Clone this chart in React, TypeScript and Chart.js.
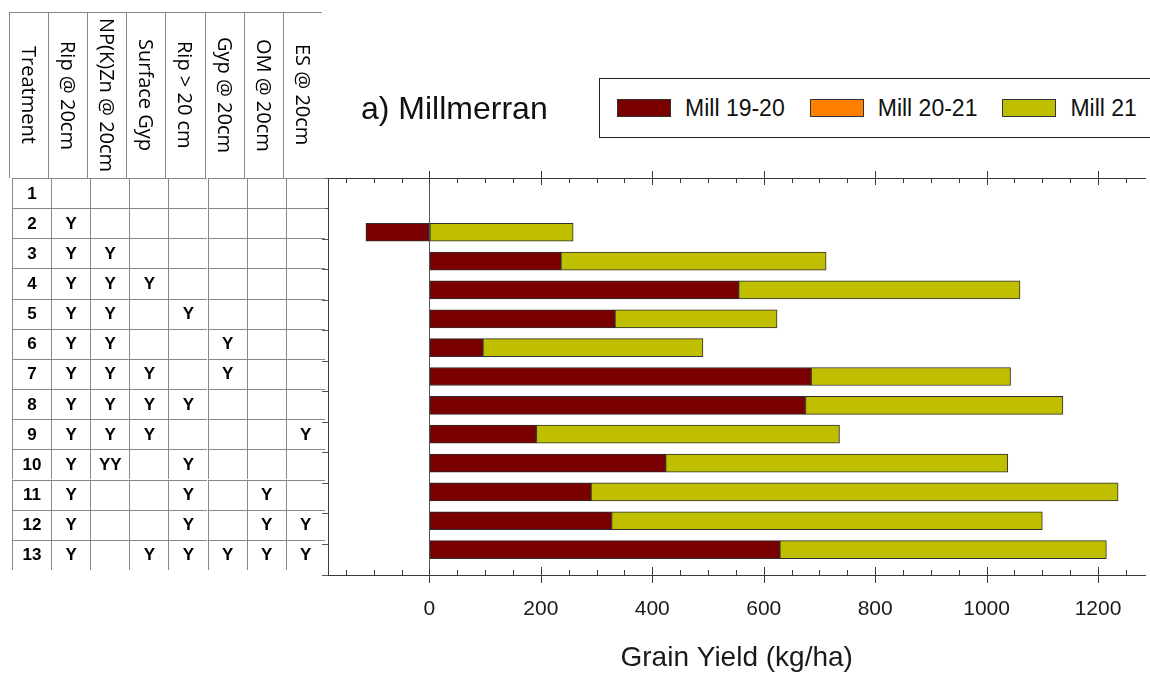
import React, { useEffect, useRef } from 'react';
import { Chart, registerables } from 'chart.js';

Chart.register(...registerables);

// ---- data ----
const treatments = ['1', '2', '3', '4', '5', '6', '7', '8', '9', '10', '11', '12', '13'];
const treatmentNums = [1, 2, 3, 4, 5, 6, 7, 8, 9, 10, 11, 12, 13];
const seriesNames = ['Mill 19-20', 'Mill 20-21', 'Mill 21'];
const seriesColors = ['#7a0000', '#ff8000', '#bfbf00'];
const mill1920 = [null, -114, 236, 555, 333, 96, 685, 675, 192, 424, 290, 327, 629];
const mill2021 = [null, null, null, null, null, null, null, null, null, null, null, null, null];
const mill21 = [null, 258, 476, 505, 291, 395, 358, 462, 544, 614, 946, 773, 586];
const xMajorTicks = [0, 200, 400, 600, 800, 1000, 1200];
const xAxisTitle = 'Grain Yield (kg/ha)';
const chartTitle = 'a) Millmerran';

const tableHeaders = ['Treatment', 'Rip @ 20cm', 'NP(K)Zn @ 20cm', 'Surface Gyp', 'Rip > 20 cm', 'Gyp @ 20cm', 'OM @ 20cm', 'ES @ 20cm'];
const tableMarks = [
  ['', '', '', '', '', '', ''],
  ['Y', '', '', '', '', '', ''],
  ['Y', 'Y', '', '', '', '', ''],
  ['Y', 'Y', 'Y', '', '', '', ''],
  ['Y', 'Y', '', 'Y', '', '', ''],
  ['Y', 'Y', '', '', 'Y', '', ''],
  ['Y', 'Y', 'Y', '', 'Y', '', ''],
  ['Y', 'Y', 'Y', 'Y', '', '', ''],
  ['Y', 'Y', 'Y', '', '', '', 'Y'],
  ['Y', 'YY', '', 'Y', '', '', ''],
  ['Y', '', '', 'Y', '', 'Y', ''],
  ['Y', '', '', 'Y', '', 'Y', 'Y'],
  ['Y', '', 'Y', 'Y', 'Y', 'Y', 'Y'],
];

const seriesValues = [mill1920, mill2021, mill21];

const tickMarksPlugin = {
  id: 'tickMarks',
  afterDraw(chart: any) {
    const { ctx, chartArea: a, scales } = chart;
    const xs = scales.x;
    ctx.save();
    ctx.strokeStyle = '#3a3a3a';
    ctx.lineWidth = 1;
    xs.ticks.forEach((t: any) => {
      const px = Math.round(xs.getPixelForValue(t.value)) + 0.5;
      const major = xMajorTicks.includes(t.value);
      ctx.beginPath();
      if (major) {
        ctx.moveTo(px, a.top - 7);
        ctx.lineTo(px, a.top + 7);
        ctx.moveTo(px, a.bottom - 8);
        ctx.lineTo(px, a.bottom + 8);
      } else {
        ctx.moveTo(px, a.top);
        ctx.lineTo(px, a.top + 5);
        ctx.moveTo(px, a.bottom - 5);
        ctx.lineTo(px, a.bottom);
      }
      ctx.stroke();
    });
    ctx.restore();
  },
};

const FONT = '"Liberation Sans", Arial, sans-serif';

function ChartCanvas() {
  const ref = useRef<HTMLCanvasElement | null>(null);
  useEffect(() => {
    if (!ref.current) return;
    const chart = new Chart(ref.current, {
      type: 'bar',
      data: {
        datasets: seriesNames.map((name, si) => ({
          label: name,
          data: treatmentNums
            .map((t, i) => ({ x: seriesValues[si][i], y: t }))
            .filter((d) => d.x !== null) as any,
          backgroundColor: seriesColors[si],
          borderColor: '#2e2e2e',
          borderWidth: 1,
          borderSkipped: false,
          barThickness: 18,
          xAxisID: 'x',
          yAxisID: 'y',
        })),
      },
      options: {
        indexAxis: 'y',
        responsive: false,
        animation: false,
        layout: { padding: { left: 322, top: 178, right: 0, bottom: 0 } },
        plugins: { legend: { display: false }, tooltip: { enabled: false }, title: { display: false } },
        scales: {
          x: {
            type: 'linear',
            position: 'bottom',
            stacked: true,
            min: -182,
            max: 1285,
            ticks: {
              stepSize: 50,
              includeBounds: false,
              autoSkip: false,
              maxRotation: 0,
              padding: 24,
              color: '#1a1a1a',
              font: { family: FONT, size: 21, lineHeight: 1 },
              callback: (v: any) => (xMajorTicks.includes(Number(v)) ? String(v) : ''),
            },
            grid: {
              drawTicks: false,
              color: (c: any) => (c.tick && c.tick.value === 0 ? '#555555' : 'rgba(0,0,0,0)'),
              lineWidth: 1,
            },
            border: { display: true, color: '#3a3a3a', width: 1 },
            title: {
              display: true,
              text: xAxisTitle,
              color: '#1a1a1a',
              font: { family: FONT, size: 28, lineHeight: 1 },
              padding: { top: 0, bottom: 1 },
            },
          },
          x2: {
            type: 'linear',
            position: 'top',
            min: -182,
            max: 1285,
            ticks: { display: false },
            grid: { display: false, drawTicks: false },
            border: { display: true, color: '#3a3a3a', width: 1 },
          },
          y: {
            type: 'linear',
            display: false,
            stacked: true,
            reverse: true,
            offset: false,
            min: 0.12,
            max: 13.88,
          },
          yt: {
            type: 'category',
            position: 'left',
            labels: treatments,
            offset: true,
            ticks: { display: false },
            grid: { offset: true, drawOnChartArea: false, drawTicks: true, tickLength: 6, color: '#555555' },
            border: { display: true, color: '#3a3a3a', width: 1 },
          },
        },
      } as any,
      plugins: [tickMarksPlugin],
    });
    return () => chart.destroy();
  }, []);
  return <canvas ref={ref} width={1150} height={673} style={{ position: 'absolute', left: 0, top: 0 }} />;
}

const headerLeft = 9;
const bodyLeft = 12;
const colW = 39.1;
const rowH = 30.15;

export default function App() {
  return (
    <div style={{ position: 'absolute', left: 0, top: 0, width: 1150, height: 673, overflow: 'hidden', background: '#fff' }}>
      <ChartCanvas />
      {/* title */}
      <div style={{ position: 'absolute', left: 361, top: 92, font: `32px ${FONT}`, lineHeight: '32px', color: '#111', whiteSpace: 'nowrap' }}>
        {chartTitle}
      </div>
      {/* legend */}
      <div
        style={{
          position: 'absolute', left: 599, top: 78, width: 620, height: 60, boxSizing: 'border-box',
          border: '1.5px solid #222', display: 'flex', alignItems: 'center', paddingLeft: 17, background: '#fff',
        }}
      >
        {seriesNames.map((n, i) => (
          <div key={n} style={{ display: 'flex', alignItems: 'center', marginRight: 25 }}>
            <div style={{ width: 54, height: 18, boxSizing: 'border-box', background: seriesColors[i], border: '1px solid #333', marginRight: 14 }} />
            <div style={{ font: `23px ${FONT}`, lineHeight: '23px', color: '#111', whiteSpace: 'nowrap' }}>{n}</div>
          </div>
        ))}
      </div>
      {/* table header */}
      <div style={{ position: 'absolute', left: headerLeft, top: 12, width: 313, height: 0, borderTop: '1px solid #888' }} />
      {tableHeaders.map((h, i) => (
        <div
          key={h}
          style={{
            position: 'absolute', left: headerLeft + i * colW, top: 12, width: colW, height: 166, boxSizing: 'border-box',
            borderLeft: '1px solid #888', display: 'flex', alignItems: 'center', justifyContent: 'center',
          }}
        >
          <div style={{ writingMode: 'vertical-rl', font: `20px "Open Sans", sans-serif`, lineHeight: '22px', color: '#000', whiteSpace: 'nowrap' }}>{h}</div>
        </div>
      ))}
      {/* table body */}
      {treatments.map((t, r) => (
        <React.Fragment key={t}>
          {[t, ...tableMarks[r]].map((cell, c) => (
            <div
              key={c}
              style={{
                position: 'absolute', left: bodyLeft + c * colW, top: 178 + r * rowH, width: colW, height: rowH, boxSizing: 'border-box',
                borderLeft: '1px solid #888', borderTop: '1px solid #888', display: 'flex', alignItems: 'center', justifyContent: 'center',
                font: `bold 17px ${FONT}`, color: '#000',
              }}
            >
              {cell}
            </div>
          ))}
        </React.Fragment>
      ))}
    </div>
  );
}
